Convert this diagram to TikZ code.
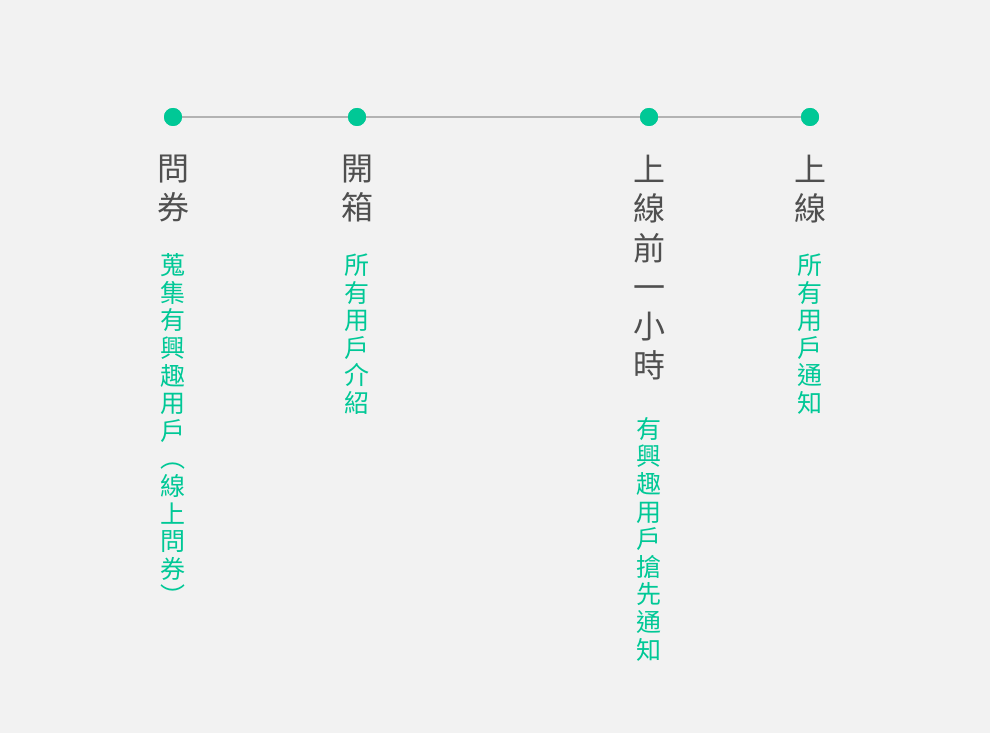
\documentclass[tikz,border=0pt]{standalone}
\usepackage{fontspec}
\newfontfamily\cjk{Noto Sans CJK TC}
\definecolor{bgc}{HTML}{F2F2F2}
\definecolor{mint}{HTML}{00C896}
\definecolor{darktxt}{HTML}{4F4F4F}
\definecolor{linegray}{HTML}{B3B3B3}
\tikzset{
  dot/.style={circle, fill=mint, minimum size=18pt, inner sep=0pt},
  title/.style={anchor=north, inner sep=0pt, align=center, text=darktxt, font=\cjk\fontsize{32}{39.2}\selectfont},
  desc/.style={anchor=north, inner sep=0pt, align=center, text=mint, font=\cjk\fontsize{25}{27.6}\selectfont},
}
\begin{document}
\begin{tikzpicture}[x=1pt,y=-1pt]
\fill[bgc] (0,0) rectangle (990,733);
\useasboundingbox (0,0) rectangle (990,733);
\node[dot] (d1) at (173,117) {};
\node[dot] (d2) at (357,117) {};
\node[dot] (d3) at (649,117) {};
\node[dot] (d4) at (810,117) {};
\draw[linegray, line width=2.8pt] (d1.center) -- (d2.center) -- (d3.center) -- (d4.center);
\foreach \d in {d1,d2,d3,d4} \fill[mint] (\d) circle (9pt);
\node[title] (t1) at (173,155) {問\\券};
\node[title] (t2) at (357,155) {開\\箱};
\node[title] (t3) at (649,155) {上\\線\\前\\一\\小\\時};
\node[title] (t4) at (810,155) {上\\線};
\node[desc] (s1) at (173,253.5) {蒐\\集\\有\\興\\趣\\用\\戶\\︵\\線\\上\\問\\券\\︶};
\node[desc] (s2) at (357,253.5) {所\\有\\用\\戶\\介\\紹};
\node[desc] (s3) at (649,417) {有\\興\\趣\\用\\戶\\搶\\先\\通\\知};
\node[desc] (s4) at (810,253.5) {所\\有\\用\\戶\\通\\知};
\end{tikzpicture}
\end{document}
